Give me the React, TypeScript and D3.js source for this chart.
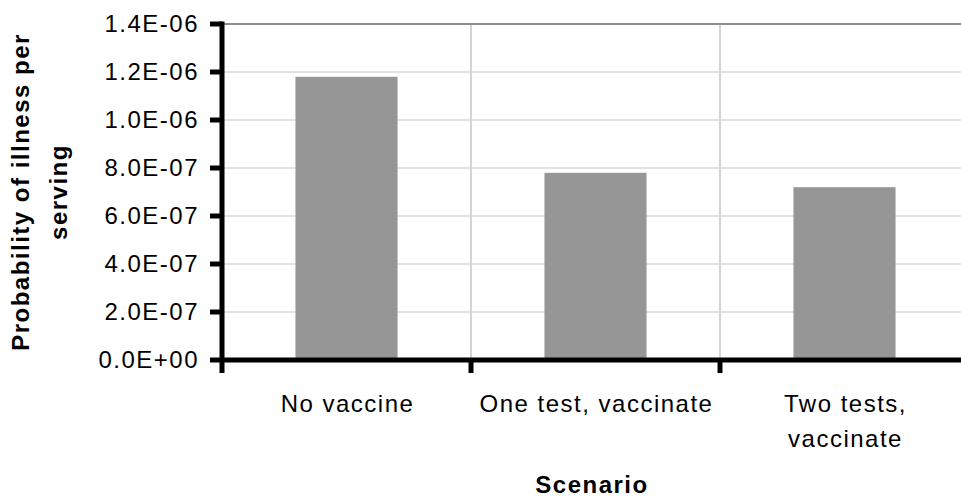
import React from "react";
import * as d3 from "d3";

const categories: string[][] = [["No vaccine"], ["One test, vaccinate"], ["Two tests,", "vaccinate"]];
const values: number[] = [1.18e-6, 7.8e-7, 7.2e-7];
const yTicks: number[] = [0, 2e-7, 4e-7, 6e-7, 8e-7, 1e-6, 1.2e-6, 1.4e-6];
const yTitle: string[] = ["Probability of illness per", "serving"];
const xTitle = "Scenario";

const W = 961, H = 498;
const left = 222, right = 969, top = 24, bottom = 360;

function fmt(v: number) {
  const s = v.toExponential(1).toUpperCase();
  const m = s.match(/^([\d.]+)E([+-])(\d+)$/)!;
  return `${m[1]}E${m[2]}${m[3].padStart(2, "0")}`;
}

export default function App() {
  const x = d3.scaleBand<number>().domain(categories.map((_, i) => i)).range([left, right]).paddingInner(0).paddingOuter(0);
  const y = d3.scaleLinear().domain([0, 1.4e-6]).range([bottom, top]);
  const bw = x.bandwidth() * 0.41;
  const font = "'Liberation Sans', Arial, sans-serif";
  const boundaries = d3.range(categories.length + 1).map((i) => left + i * x.bandwidth());
  return (
    <svg width={W} height={H} style={{ position: "absolute", left: 0, top: 0, background: "#fff" }} fontFamily={font}>
      {yTicks.slice(1, -1).map((t) => (
        <line key={"g" + t} x1={left} x2={W} y1={y(t)} y2={y(t)} stroke="#d9d9d9" strokeWidth={1.3} />
      ))}
      {boundaries.slice(1).map((b) => (
        <line key={"v" + b} x1={b} x2={b} y1={top} y2={bottom} stroke="#d4d4d4" strokeWidth={2} />
      ))}
      <line x1={left} x2={W} y1={top} y2={top} stroke="#8c8c8c" strokeWidth={2} />
      {values.map((v, i) => (
        <rect key={i} x={x(i)! + (x.bandwidth() - bw) / 2} y={y(v)} width={bw} height={bottom - y(v)} fill="#969696" />
      ))}
      <line x1={left} x2={left} y1={top - 2.5} y2={bottom + 13} stroke="#000" strokeWidth={5} />
      <line x1={left - 2} x2={W} y1={bottom} y2={bottom} stroke="#000" strokeWidth={5} />
      {yTicks.map((t) => (
        <g key={"t" + t}>
          <line x1={left - 12} x2={left} y1={y(t)} y2={y(t)} stroke="#000" strokeWidth={5} />
          <text x={199} y={y(t)} dy="0.35em" textAnchor="end" fontSize={24} letterSpacing={1.5}>
            {fmt(t)}
          </text>
        </g>
      ))}
      {boundaries.slice(1).map((b) => (
        <line key={"xt" + b} x1={b} x2={b} y1={bottom} y2={bottom + 13} stroke="#000" strokeWidth={5} />
      ))}
      {categories.map((lines, i) => (
        <text key={"c" + i} textAnchor="middle" fontSize={24} letterSpacing={1.5}>
          {lines.map((l, j) => (
            <tspan key={j} x={x(i)! + x.bandwidth() / 2 + 1} y={412 + j * 35}>
              {l}
            </tspan>
          ))}
        </text>
      ))}
      <text x={592} y={493} textAnchor="middle" fontSize={24} fontWeight="bold" letterSpacing={1.5}>
        {xTitle}
      </text>
      {yTitle.map((l, j) => (
        <text key={"yt" + j} transform={`translate(${29 + j * 38},192) rotate(-90)`} textAnchor="middle" fontSize={24} fontWeight="bold" letterSpacing={1.5}>
          {l}
        </text>
      ))}
    </svg>
  );
}
